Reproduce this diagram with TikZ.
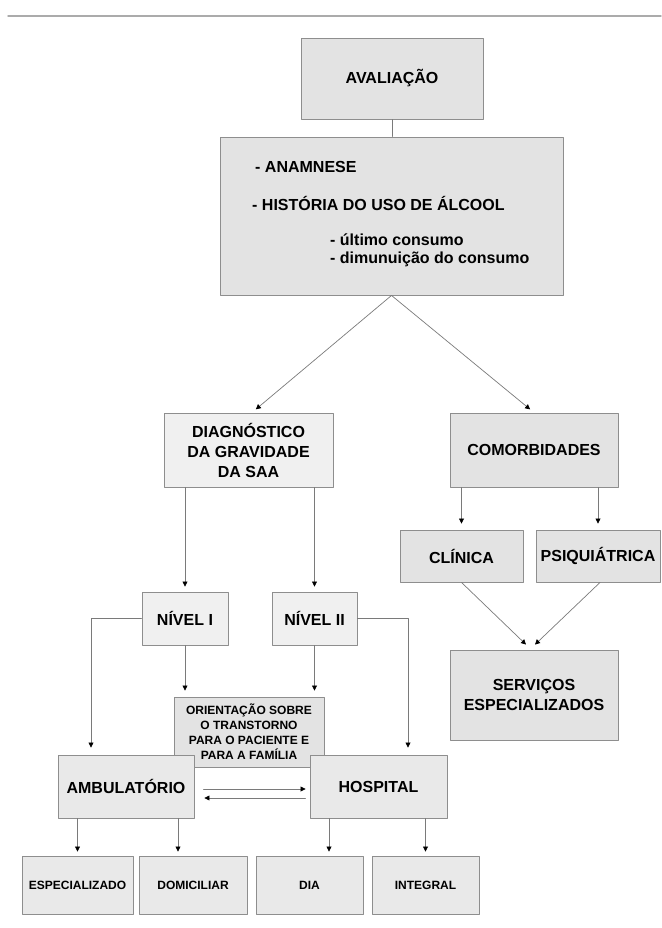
\documentclass[tikz,border=0pt]{standalone}
\usepackage{fontspec}
\setmainfont{Liberation Sans}
\usetikzlibrary{arrows.meta}
\definecolor{regua}{HTML}{ABABAB}
\definecolor{contorno}{HTML}{8E8E8E}
\definecolor{ligacao}{HTML}{7A7A7A}
\definecolor{fundo}{HTML}{E3E3E3}
\definecolor{fundoclaro}{HTML}{F0F0F0}
\tikzset{
	caixa/.style={draw=contorno, fill=fundo, line width=0.9pt, inner sep=0pt, align=center,
		font=\bfseries\fontsize{16}{20}\selectfont},
	caixaclara/.style={caixa, fill=fundoclaro},
	miuda/.style={caixa, fill=fundo!80!white, font=\bfseries\fontsize{12}{15}\selectfont},
	texto/.style={inner sep=0pt, anchor=base west, font=\bfseries\fontsize{16}{20}\selectfont},
	liga/.style={draw=ligacao, line width=0.7pt},
	seta/.style={liga, ->}
}
\begin{document}
\begin{tikzpicture}[x=1pt, y=-1pt, >={Triangle[length=5pt,width=5pt,color=black]}, line join=round, line cap=round]
	\useasboundingbox (0,0) rectangle (661,928);
	\draw[regua, line width=1.4pt] (8,16) -- (661,16);
	% caixas
	\node[caixa, minimum width=182pt, minimum height=81pt] (aval) at (392,78.5) {AVALIAÇÃO};
	\node[caixa, minimum width=343pt, minimum height=158pt] (coleta) at (391.5,216) {};
	\node[texto] (anam) at (255,172.5) {- ANAMNESE};
	\node[texto] (hist) at (252,210.5) {- HISTÓRIA DO USO DE ÁLCOOL};
	\node[texto] (ultimo) at (330,245) {- último consumo};
	\node[texto] (dimin) at (330,263) {- dimunuição do consumo};
	\node[caixaclara, minimum width=169pt, minimum height=74pt] (diag) at (248.5,450) {DIAGNÓSTICO\\DA GRAVIDADE\\DA SAA};
	\node[caixa, minimum width=168pt, minimum height=74pt] (comorb) at (534,450) {COMORBIDADES};
	\node[caixaclara, minimum width=86pt, minimum height=53pt] (nivelum) at (185,618.5) {NÍVEL I};
	\node[caixaclara, minimum width=85pt, minimum height=53pt] (niveldois) at (314.5,618.5) {NÍVEL II};
	\node[caixa, minimum width=123pt, minimum height=52pt] (clin) at (461.5,556) {CLÍNICA};
	\node[caixa, minimum width=124pt, minimum height=52pt] (psiq) at (598,556) {PSIQUIÁTRICA};
	\node[caixa, minimum width=168pt, minimum height=90pt] (serv) at (534,695) {SERVIÇOS\\ESPECIALIZADOS};
	\node[miuda, fill=fundo, minimum width=150pt, minimum height=70pt] (orient) at (249,732)
		{ORIENTAÇÃO SOBRE\\O TRANSTORNO\\PARA O PACIENTE E\\PARA A FAMÍLIA};
	\node[caixa, fill=fundo!80!white, minimum width=136pt, minimum height=63pt] (amb) at (126,786.5) {AMBULATÓRIO};
	\node[caixa, fill=fundo!80!white, minimum width=137pt, minimum height=63pt] (hosp) at (378.5,786.5) {HOSPITAL};
	\foreach \nome/\x/\rot/\w in {esp/77.5/ESPECIALIZADO/111, dom/193/DOMICILIAR/108, dia/309.5/DIA/107, integ/425.5/INTEGRAL/107}
	\node[miuda, minimum width=\w pt, minimum height=58pt] (\nome) at (\x,885) {\rot};
	% ligacoes
	\draw[liga] (aval.south) -- (aval.south |- coleta.north);
	\draw[seta, shorten >=5pt] (coleta.south) -- ([shift={(3.5,0)}]diag.north);
	\draw[seta, shorten >=5pt] (coleta.south) -- (comorb.north);
	\draw[seta, shorten >=5pt] (diag.south -| nivelum.north) -- (nivelum.north);
	\draw[seta, shorten >=5pt] (diag.south -| niveldois.north) -- (niveldois.north);
	\draw[seta, shorten >=6pt] (comorb.south -| clin.north) -- (clin.north);
	\draw[seta, shorten >=6pt] (comorb.south -| psiq.north) -- (psiq.north);
	\draw[seta] (clin.south) -- ([shift={(-8,-5)}]serv.north);
	\draw[seta] ([shift={(2,0)}]psiq.south) -- ([shift={(1,-5)}]serv.north);
	\draw[seta, shorten >=7pt] (nivelum.west) -| ([shift={(-35,0)}]amb.north);
	\draw[seta, shorten >=6pt] (nivelum.south) -- (nivelum.south |- orient.north);
	\draw[seta, shorten >=6pt] (niveldois.south) -- (niveldois.south |- orient.north);
	\draw[seta, shorten >=7pt] (niveldois.east) -| ([shift={(29.5,0)}]hosp.north);
	\draw[seta] ([shift={(9,2.5)}]amb.east) -- ([shift={(-4,2.5)}]hosp.west);
	\draw[seta] ([shift={(-4,11.5)}]hosp.west) -- ([shift={(10,11.5)}]amb.east);
	\foreach \de/\para/\dx in {amb/esp/0, amb/dom/-15, hosp/dia/19.5, hosp/integ/0}{
		\coordinate (topo\para) at ([shift={(\dx,0)}]\para.north);
		\draw[seta, shorten >=4pt] (\de.south -| topo\para) -- (topo\para);
	}
\end{tikzpicture}
\end{document}
